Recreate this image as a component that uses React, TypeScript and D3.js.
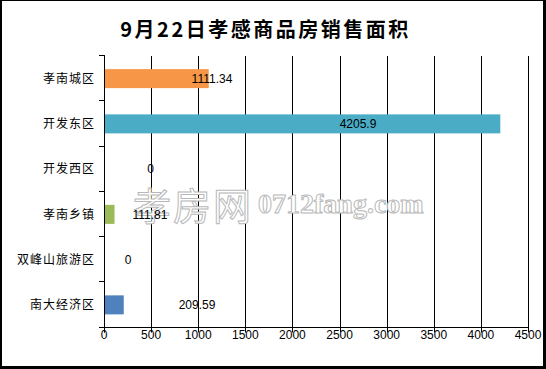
import React, { useEffect, useRef } from 'react';
import * as d3 from 'd3';

// chart data
const categories = ['孝南城区', '开发东区', '开发西区', '孝南乡镇', '双峰山旅游区', '南大经济区'];
const areas = [1111.34, 4205.9, 0, 111.81, 0, 209.59];
const labelText = ['1111.34', '4205.9', '0', '111.81', '0', '209.59'];
// where each data label sits along the value axis (as placed in the source chart)
const labelAt = [1146, 2696, 494, 488, 255, 987];
const barColors = ['#F79646', '#4BACC6', '#8064A2', '#9BBB59', '#C0504D', '#4F81BD'];
const xTicks = [0, 500, 1000, 1500, 2000, 2500, 3000, 3500, 4000, 4500];

const W = 546;
const H = 369;

function BarChart() {
  const svgRef = useRef<SVGSVGElement>(null);

  useEffect(() => {
    const svg = d3.select(svgRef.current);
    svg.selectAll('*').remove();

    const left = 104, right = 528, top = 56, bottom = 327.5;

    const x = d3.scaleLinear().domain([0, 4500]).range([left, right]);
    const y = d3.scaleBand<string>()
      .domain(categories)
      .range([top, bottom])
      .paddingInner(0.58)
      .paddingOuter(0.29);

    svg.append('rect').attr('width', W).attr('height', H).attr('fill', '#fff');

    // frame
    svg.append('rect').attr('x', 0).attr('y', 0).attr('width', W).attr('height', 1).attr('fill', '#000');
    svg.append('rect').attr('x', 0).attr('y', 0).attr('width', 2).attr('height', H).attr('fill', '#000');
    svg.append('rect').attr('x', W - 3).attr('y', 0).attr('width', 3).attr('height', H).attr('fill', '#000');
    svg.append('rect').attr('x', 0).attr('y', H - 3).attr('width', W).attr('height', 3).attr('fill', '#000');

    // title
    svg.append('text')
      .attr('x', 265.5)
      .attr('y', 37)
      .attr('text-anchor', 'middle')
      .style('font-family', '"Noto Sans CJK SC", sans-serif')
      .style('font-size', '20px')
      .style('font-weight', 'bold')
      .style('letter-spacing', '2.5px')
      .text('9月22日孝感商品房销售面积');

    // gridlines
    svg.append('g')
      .selectAll('line')
      .data(xTicks.filter(d => d > 0))
      .enter()
      .append('line')
      .attr('x1', d => Math.round(x(d)) + 0.5)
      .attr('x2', d => Math.round(x(d)) + 0.5)
      .attr('y1', top)
      .attr('y2', bottom)
      .attr('stroke', '#000')
      .attr('stroke-width', 1);

    // watermark
    const wm = svg.append('g').attr('fill', '#fff').attr('stroke', '#b8b8b8').attr('stroke-width', 1);
    wm.append('text')
      .attr('x', 133)
      .attr('y', 220)
      .style('font-family', '"Noto Sans CJK SC", sans-serif')
      .style('font-size', '38px')
      .style('letter-spacing', '2px')
      .text('孝房网');
    wm.append('text')
      .attr('x', 258)
      .attr('y', 213)
      .style('font-family', '"Liberation Serif", serif')
      .style('font-size', '28px')
      .style('font-weight', 'bold')
      .text('0712fang.com');

    // bars
    svg.append('g')
      .selectAll('rect')
      .data(areas)
      .enter()
      .append('rect')
      .attr('x', x(0))
      .attr('y', (d, i) => y(categories[i])!)
      .attr('width', d => x(d) - x(0))
      .attr('height', y.bandwidth())
      .attr('fill', (d, i) => barColors[i]);

    // value labels
    svg.append('g')
      .selectAll('text')
      .data(labelText)
      .enter()
      .append('text')
      .attr('x', (d, i) => x(labelAt[i]))
      .attr('y', (d, i) => y(categories[i])! + y.bandwidth() / 2)
      .attr('dy', '0.36em')
      .attr('text-anchor', 'middle')
      .style('font-family', '"Liberation Sans", sans-serif')
      .style('font-size', '12px')
      .style('fill', '#000')
      .text(d => d);

    // y axis
    const step = y.step();
    const bounds = d3.range(categories.length + 1).map(i => top + i * step);
    const yAxis = svg.append('g').attr('stroke', '#000').attr('stroke-width', 1);
    yAxis.append('line')
      .attr('x1', left + 0.5).attr('x2', left + 0.5)
      .attr('y1', top - 1).attr('y2', bottom + 5);
    yAxis.selectAll('line.tick')
      .data(bounds)
      .enter()
      .append('line')
      .attr('class', 'tick')
      .attr('x1', left - 5).attr('x2', left)
      .attr('y1', d => Math.round(d) - 0.5)
      .attr('y2', d => Math.round(d) - 0.5);

    svg.append('g')
      .selectAll('text')
      .data(categories)
      .enter()
      .append('text')
      .attr('x', 95)
      .attr('y', d => y(d)! + y.bandwidth() / 2)
      .attr('dy', '0.36em')
      .attr('text-anchor', 'end')
      .style('font-family', '"Noto Sans CJK SC", sans-serif')
      .style('font-size', '12px')
      .style('letter-spacing', '1px')
      .text(d => d);

    // x axis
    const xAxis = svg.append('g').attr('stroke', '#000').attr('stroke-width', 1);
    xAxis.append('line')
      .attr('x1', left - 5).attr('x2', right + 1)
      .attr('y1', Math.round(bottom) - 0.5).attr('y2', Math.round(bottom) - 0.5);
    xAxis.selectAll('line.tick')
      .data(xTicks)
      .enter()
      .append('line')
      .attr('class', 'tick')
      .attr('x1', d => Math.round(x(d)) + 0.5)
      .attr('x2', d => Math.round(x(d)) + 0.5)
      .attr('y1', bottom)
      .attr('y2', bottom + 5);

    svg.append('g')
      .selectAll('text')
      .data(xTicks)
      .enter()
      .append('text')
      .attr('x', d => x(d))
      .attr('y', 339)
      .attr('text-anchor', 'middle')
      .style('font-family', '"Liberation Sans", sans-serif')
      .style('font-size', '12px')
      .text(d => String(d));
  }, []);

  return <svg ref={svgRef} width={W} height={H} style={{ position: 'absolute', left: 0, top: 0, display: 'block' }} />;
}

export default function App() {
  return <BarChart />;
}
